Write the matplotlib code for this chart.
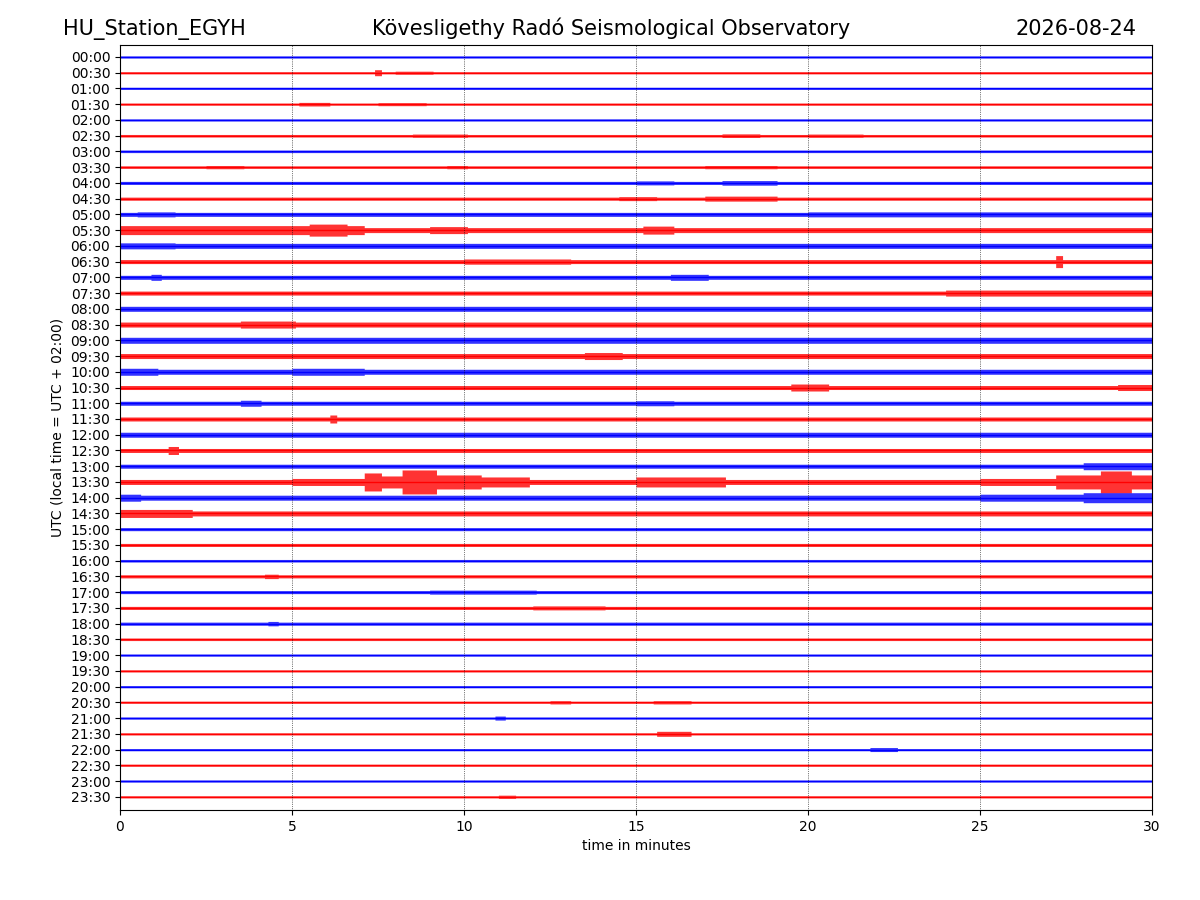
import numpy as np
import matplotlib
matplotlib.use("Agg")
import matplotlib.pyplot as plt

# row labels (UTC), one trace per 30 minutes
hours = ["%02d:%02d" % (h, m) for h in range(24) for m in (0, 30)]
colors = ["blue", "red"]

base_amp = [1.0, 1.0, 1.0, 1.0, 1.0, 1.2, 1.2, 1.2, 1.5, 1.5,
            2.0, 2.5, 2.5, 2.0, 2.0, 2.0, 2.5, 2.5, 3.0, 2.5,
            2.5, 2.0, 2.0, 2.0, 2.5, 2.0, 2.0, 2.5, 2.5, 2.5,
            1.5, 1.5, 1.2, 1.5, 1.5, 1.5, 1.5, 1.2, 1.0, 1.0,
            1.0, 1.0, 1.0, 1.0, 1.0, 1.0, 1.0, 1.0]

# louder stretches: (row, start min, end min, half-amplitude px)
ev_row = [1, 1, 3, 3, 5, 5, 5, 7, 7, 7, 8, 8, 9, 9,
          10, 10, 11, 11, 11, 11, 12, 13, 13, 14, 14, 15,
          17, 19, 20, 20, 21, 21, 22, 22, 23, 25, 26,
          27, 27, 27, 27, 27, 27, 27, 27, 27, 27, 27,
          28, 28, 28, 29,
          33, 34, 35, 36, 41, 41, 42, 43, 44, 47]
ev_t0 = [7.35, 8.0, 5.2, 7.5, 8.5, 17.5, 20.0, 2.5, 9.5, 17.0, 15.0, 17.5, 14.5, 17.0,
         0.5, 20.0, 0.0, 5.5, 9.0, 15.2, 0.0, 10.0, 27.15, 0.9, 16.0, 24.0,
         3.5, 13.5, 0.0, 5.0, 19.5, 29.0, 3.5, 15.0, 6.1, 1.4, 28.0,
         5.0, 7.1, 7.6, 8.2, 9.2, 10.4, 15.0, 27.2, 28.5, 29.3, 25.0,
         0.0, 25.0, 28.0, 0.0,
         4.2, 9.0, 12.0, 4.3, 12.5, 15.5, 10.9, 15.6, 21.8, 11.0]
ev_t1 = [7.5, 9.0, 6.0, 8.8, 10.0, 18.5, 21.5, 3.5, 10.0, 19.0, 16.0, 19.0, 15.5, 19.0,
         1.5, 30.0, 7.0, 6.5, 10.0, 16.0, 1.5, 13.0, 27.3, 1.1, 17.0, 30.0,
         5.0, 14.5, 1.0, 7.0, 20.5, 30.0, 4.0, 16.0, 6.3, 1.6, 30.0,
         7.1, 7.6, 8.2, 9.2, 10.4, 11.8, 17.5, 28.5, 29.3, 30.0, 27.2,
         0.6, 28.0, 30.0, 2.0,
         4.5, 12.0, 14.0, 4.6, 13.0, 16.5, 11.2, 16.5, 22.5, 11.4]
ev_amp = [3.0, 1.5, 1.8, 1.5, 1.6, 1.8, 1.6, 1.6, 1.6, 1.6, 2.0, 2.3, 2.0, 2.5,
          2.5, 2.5, 4.5, 6.0, 3.5, 4.0, 3.0, 2.6, 6.0, 3.0, 3.0, 3.0,
          3.5, 3.5, 3.5, 3.5, 3.5, 3.0, 3.0, 2.5, 4.0, 4.0, 3.5,
          3.5, 9.0, 6.0, 12.0, 7.0, 5.0, 5.0, 7.0, 11.0, 7.0, 3.5,
          3.5, 3.5, 5.0, 4.0,
          2.2, 2.0, 2.0, 2.2, 1.6, 1.6, 2.0, 2.5, 2.0, 1.6]

px_per_row = 15.74
t = np.arange(0, 30.05, 0.1)

fig = plt.figure(figsize=(12, 9), dpi=100)
ax = fig.add_axes([0.1, 0.1, 0.86, 0.85])

for i, lab in enumerate(hours):
    env = np.full(t.size, base_amp[i])
    for r, a, b, amp in zip(ev_row, ev_t0, ev_t1, ev_amp):
        if r == i:
            sel = (t >= a) & (t <= b)
            env[sel] = np.maximum(env[sel], amp)
    env = env / px_per_row
    c = colors[i % 2]
    ax.fill_between(t, i - env, i + env, step="post", color=c, lw=0, alpha=0.8)
    ax.plot([0, 30], [i, i], color=c, lw=1)

for xv in range(5, 30, 5):
    ax.axvline(xv, color="black", ls=":", lw=0.5)

ax.set_xlim(0, 30)
ax.set_ylim(47.84, -0.76)
ax.set_yticks(range(len(hours)))
ax.set_yticklabels(hours)
ax.set_xticks(range(0, 31, 5))
ax.set_xlabel("time in minutes")
ax.set_ylabel("UTC (local time = UTC + 02:00)")

fig.text(0.0525, 0.9615, "HU_Station_EGYH", fontsize=15, va="baseline", ha="left")
fig.text(0.509, 0.9615, "Kövesligethy Radó Seismological Observatory", fontsize=15,
         va="baseline", ha="center")
fig.text(0.947, 0.9615, "2026-08-24", fontsize=15, va="baseline", ha="right")

fig.savefig("out.png")
